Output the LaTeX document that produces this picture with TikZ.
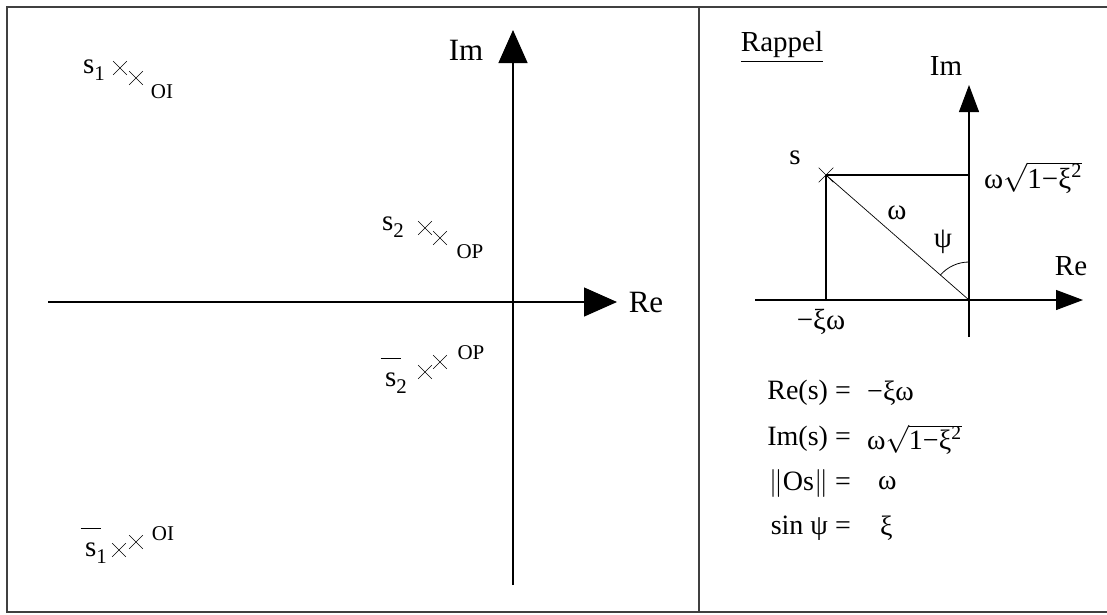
\documentclass[tikz,border=0pt]{standalone}
\usepackage{fix-cm}
\usepackage{exscale}
\usepackage{fontspec}
\setmainfont{Liberation Serif}
\usetikzlibrary{arrows.meta,shapes.misc}
\newcommand{\lowsub}[1]{\raisebox{-0.5ex}{\scalebox{0.72}{#1}}}
\newcommand{\barred}[1]{\ooalign{#1\cr\hidewidth\raisebox{0.95em}{\rule{0.7em}{1pt}}\hidewidth\cr}}
\newcommand{\rootterm}{$\sqrt{\vphantom{\mbox{1}}\smash{\mbox{1−ξ\textsuperscript{2}}}}$}
\begin{document}
\begin{tikzpicture}[
  x=1pt,
  y=-1pt,
  frame/.style={line width=2pt, draw=black!75},
  axis/.style={line width=1.3pt, -{Triangle[length=33pt,width=29pt]}},
  smallaxis/.style={line width=1.1pt, -{Triangle[length=27pt,width=20pt]}},
  pole/.style={cross out, draw, line width=0.6pt, minimum size=13pt, inner sep=0pt},
  big/.style={font=\fontsize{31}{34}\selectfont, inner sep=0pt},
  lbl/.style={font=\fontsize{29}{32}\selectfont, inner sep=0pt},
  tag/.style={font=\fontsize{21}{24}\selectfont, inner sep=0pt},
  eq/.style={font=\fontsize{28}{31}\selectfont, inner sep=0pt}
]
\useasboundingbox (0,0) rectangle (1107,614);

% frame
\draw[frame] (1110,7) -- (7,7) -- (7,612) -- (1110,612);
\draw[frame] (699,7) -- (699,612);

% left panel: s-plane
\coordinate (O) at (513,302);
\coordinate (reL) at (48,302);
\coordinate (reR) at (617,302);
\coordinate (imB) at (513,585);
\coordinate (imT) at (513,30);
\draw[axis] (reL) -- (reR);
\draw[axis] (imB) -- (imT);
\node[big] (im) at (466,50) {Im};
\node[big] (re) at (646,302) {Re};

\node[lbl] (s1) at (94,70) {s\lowsub{1}};
\node[pole] (p1a) at (120,68) {};
\node[pole] (p1b) at (136,78) {};
\node[tag] (oi1) at (162,92) {OI};

\node[lbl] (s2) at (393,227) {s\lowsub{2}};
\node[pole] (p2a) at (425,228) {};
\node[pole] (p2b) at (440,238) {};
\node[tag] (op1) at (470,252) {OP};

\node[lbl] (s2b) at (396,383) {\barred{s}\lowsub{2}};
\node[pole] (p3a) at (425,372) {};
\node[pole] (p3b) at (440,362) {};
\node[tag] (op2) at (471,353) {OP};

\node[lbl] (s1b) at (96,553) {\barred{s}\lowsub{1}};
\node[pole] (p4a) at (119,550) {};
\node[pole] (p4b) at (136,542) {};
\node[tag] (oi2) at (163,534) {OI};

% right panel: reminder
\node[lbl] (rappel) at (782,47) {\underline{Rappel}};
\coordinate (o) at (969,300);
\coordinate (reLs) at (755,300);
\coordinate (reRs) at (1083,300);
\coordinate (imBs) at (969,337);
\coordinate (imTs) at (969,85);
\coordinate (sIm) at (969,175);
\coordinate (sRe) at (826,300);
\draw[smallaxis] (reLs) -- (reRs);
\draw[smallaxis] (imBs) -- (imTs);
\node[lbl] (ims) at (946,66) {Im};
\node[lbl] (res) at (1071,266) {Re};

\node[pole, minimum size=14pt] (s) at (826,175) {};
\draw[line width=1.1pt] (s.center) -- (sIm);
\draw[line width=1.1pt] (s.center) -- (sRe);
\draw[line width=0.7pt] (s.center) -- (o);
\draw[line width=0.8pt] ([shift={(90:-38)}]o) arc[start angle=270, end angle=221, radius=38];
\node[lbl] (slbl) at (795,158) {s};
\node[lbl] (wlbl) at (897,213) {ω};
\node[lbl] (psilbl) at (943,242) {ψ};
\node[lbl, anchor=west] (wsq) at (984,177) {ω\rootterm};
\node[lbl] (xw) at (821,322) {−ξω};

\node[eq, anchor=east] (l1) at (851,393) {Re(s) =};
\node[eq, anchor=west] (r1) at (867,393) {−ξω};
\node[eq, anchor=east] (l2) at (851,439) {Im(s) =};
\node[eq, anchor=west] (r2) at (867,439) {ω\rootterm};
\node[eq, anchor=east] (l3) at (851,483) {$\|$Os$\|$ =};
\node[eq, anchor=west] (r3) at (878,483) {ω};
\node[eq, anchor=east] (l4) at (851,528) {sin ψ =};
\node[eq, anchor=west] (r4) at (880,528) {ξ};
\end{tikzpicture}
\end{document}
